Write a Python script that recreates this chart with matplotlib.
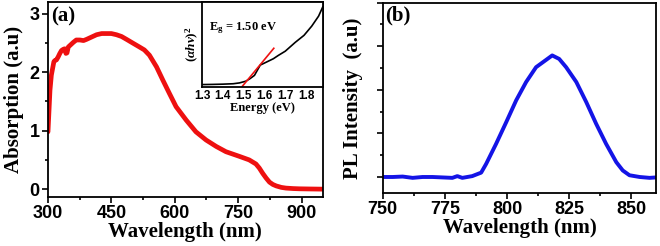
import numpy as np
import matplotlib
matplotlib.use("Agg")
import matplotlib.pyplot as plt
from matplotlib.ticker import MultipleLocator, NullFormatter

# absorption spectrum (panel a)
abs_wl = [300, 304.7, 308, 314, 316.5, 320, 324, 328, 332, 336, 339.5, 342.5, 345, 348,
          354, 360, 367, 375.6, 384, 391, 403, 415, 427, 438.7, 450, 462, 474, 486,
          500, 516.5, 528, 540, 556.8, 572, 587, 603, 627, 650, 674, 698, 721, 753,
          776, 792, 800, 808, 816, 824, 832, 840, 852, 863, 880, 895, 920, 950]
abs_val = [0.98, 1.69, 1.95, 2.18, 2.2, 2.21, 2.26, 2.32, 2.37, 2.39, 2.40, 2.32, 2.33, 2.43,
           2.47, 2.51, 2.55, 2.55, 2.54, 2.56, 2.6, 2.64, 2.66, 2.66, 2.66, 2.64, 2.61, 2.56,
           2.5, 2.43, 2.38, 2.29, 2.09, 1.86, 1.64, 1.41, 1.18, 0.98, 0.84, 0.73, 0.64, 0.56,
           0.5, 0.43, 0.36, 0.27, 0.19, 0.12, 0.08, 0.055, 0.03, 0.018, 0.01, 0.006, 0.003, 0.0]

# Tauc plot (inset)
tauc_e = [1.30, 1.35, 1.40, 1.45, 1.48, 1.51, 1.53, 1.552, 1.58, 1.61, 1.643, 1.667, 1.70,
          1.748, 1.79, 1.827, 1.86, 1.88]
tauc_y = [0.01, 0.012, 0.015, 0.02, 0.03, 0.05, 0.08, 0.12, 0.244, 0.28, 0.32, 0.36, 0.41,
          0.516, 0.6, 0.71, 0.83, 0.94]
fit_e = [1.494, 1.645]
fit_y = [-0.01, 0.445]

# photoluminescence (panel b)
pl_wl = [750, 754, 758, 762, 766, 770, 774, 778, 780, 782, 786, 789.6, 791.6, 795.6, 799.7,
         803.7, 807.7, 811.7, 815.8, 818.2, 821, 823.8, 827.9, 831.9, 835.9, 839.9, 844,
         846.6, 849.3, 853.4, 857.4, 860]
pl_val = [0.0, 0.0, 0.01, -0.02, 0.0, 0.0, -0.01, -0.02, 0.02, -0.02, 0.02, 0.1, 0.3, 0.76, 1.26,
          1.76, 2.18, 2.52, 2.69, 2.79, 2.71, 2.52, 2.18, 1.72, 1.22, 0.76, 0.34,
          0.15, 0.04, 0.0, -0.02, -0.01]

sans = "Liberation Sans"
serif = "Liberation Serif"
plt.rcParams["mathtext.fontset"] = "custom"
plt.rcParams["mathtext.rm"] = "Liberation Serif:bold"
plt.rcParams["mathtext.it"] = "Liberation Serif:italic:bold"
plt.rcParams["mathtext.bf"] = "Liberation Serif:bold"

fig = plt.figure(figsize=(6.6, 2.46), dpi=100)
ax1 = fig.add_axes([0.0727, 0.199, 0.4163, 0.793])
ax2 = fig.add_axes([0.580, 0.215, 0.414, 0.774])
ins = fig.add_axes([0.306, 0.646, 0.183, 0.346])

for ax in (ax1, ax2, ins):
    for s in ax.spines.values():
        s.set_linewidth(1.3)

# panel a
ax1.plot(abs_wl, abs_val, color="#ee1010", lw=3.4, solid_capstyle="round")
ax1.set_xlim(300, 950)
ax1.set_ylim(-0.135, 3.2)
ax1.xaxis.set_major_locator(MultipleLocator(150))
ax1.xaxis.set_minor_locator(MultipleLocator(75))
ax1.yaxis.set_major_locator(MultipleLocator(1))
ax1.yaxis.set_minor_locator(MultipleLocator(0.5))
ax1.tick_params(which="major", direction="out", length=4, width=1.2, pad=2)
ax1.tick_params(which="minor", direction="out", length=2.5, width=1.2)
for lab in ax1.get_xticklabels() + ax1.get_yticklabels():
    lab.set_fontfamily(sans)
    lab.set_fontweight("bold")
    lab.set_fontsize(13)
ax1.set_xlabel("Wavelength (nm)", fontfamily=serif, fontweight="bold", fontsize=15, labelpad=0)
ax1.set_ylabel("Absorption (a.u)", fontfamily=serif, fontweight="bold", fontsize=15, labelpad=4)
ax1.text(0.01, 0.975, "(a)", transform=ax1.transAxes, ha="left", va="top",
         fontfamily=serif, fontweight="bold", fontsize=15)

# inset
ins.plot(tauc_e, tauc_y, color="black", lw=1.2)
ins.plot(fit_e, fit_y, color="#ee1010", lw=1.2)
ins.set_xlim(1.3, 1.88)
ins.set_ylim(-0.02, 1.0)
ins.set_yticks([])
ins.xaxis.set_major_locator(MultipleLocator(0.1))
ins.tick_params(axis="x", direction="in", length=0, pad=2, labelsize=8.5)
for lab in ins.get_xticklabels():
    lab.set_fontfamily(sans)
    lab.set_fontweight("bold")
ins.set_xlabel("Energy (eV)", fontfamily=serif, fontweight="bold", fontsize=9, labelpad=0)
ins.set_ylabel(r"$(\mathit{\alpha h\nu})^2$", fontsize=9.5, labelpad=1)
ins.text(0.06, 0.69, r"E$_\mathrm{g}$ = 1.50 eV", transform=ins.transAxes, ha="left",
         va="center", fontfamily=serif, fontweight="bold", fontsize=9)
ins.patch.set_facecolor("white")

# panel b
ax2.plot(pl_wl, pl_val, color="#1414e6", lw=2.8, solid_capstyle="round")
ax2.set_xlim(750, 860)
ax2.set_ylim(-0.37, 4.0)
ax2.xaxis.set_major_locator(MultipleLocator(25))
ax2.xaxis.set_minor_locator(MultipleLocator(12.5))
ax2.yaxis.set_major_locator(MultipleLocator(1))
ax2.yaxis.set_minor_locator(MultipleLocator(0.5))
ax2.yaxis.set_major_formatter(NullFormatter())
ax2.tick_params(which="major", direction="out", length=4, width=1.2, pad=2)
ax2.tick_params(which="minor", direction="out", length=2.5, width=1.2)
for lab in ax2.get_xticklabels():
    lab.set_fontfamily(sans)
    lab.set_fontweight("bold")
    lab.set_fontsize(13)
ax2.set_xlabel("Wavelength (nm)", fontfamily=serif, fontweight="bold", fontsize=15, labelpad=0)
ax2.set_ylabel("PL Intensity  (a.u)", fontfamily=serif, fontweight="bold", fontsize=15, labelpad=8)
ax2.text(0.01, 0.985, "(b)", transform=ax2.transAxes, ha="left", va="top",
         fontfamily=serif, fontweight="bold", fontsize=15)

fig.savefig("out.png", dpi=100)
